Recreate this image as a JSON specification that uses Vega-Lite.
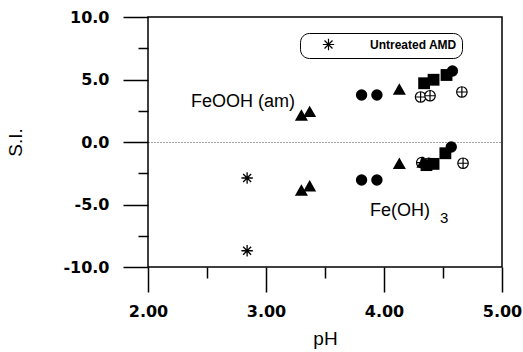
{
  "$schema": "https://vega.github.io/schema/vega-lite/v6.json",
  "width": 354,
  "height": 250,
  "autosize": {"type": "none"},
  "padding": {"left": 148, "top": 17, "right": 21, "bottom": 85},
  "background": "white",
  "config": {
    "view": {"stroke": "black", "strokeWidth": 1.5},
    "font": "Liberation Sans",
    "axis": {
      "domain": false,
      "tickColor": "black",
      "tickWidth": 1.5,
      "labelColor": "black",
      "labelFont": "DejaVu Sans",
      "labelFontSize": 16,
      "labelFontWeight": "bold",
      "titleFont": "Liberation Sans",
      "titleFontSize": 19,
      "titleFontWeight": "normal",
      "titleColor": "black"
    }
  },
  "datasets": {
    "pts": [
      {"pH": 2.84, "SI": -2.88, "type": "Untreated AMD"},
      {"pH": 2.84, "SI": -8.7, "type": "Untreated AMD"},
      {"pH": 4.31, "SI": 3.6, "type": "cross"},
      {"pH": 4.39, "SI": 3.7, "type": "cross"},
      {"pH": 4.66, "SI": 4.0, "type": "cross"},
      {"pH": 4.32, "SI": -1.65, "type": "cross"},
      {"pH": 4.38, "SI": -1.7, "type": "cross"},
      {"pH": 4.67, "SI": -1.7, "type": "cross"},
      {"pH": 3.30, "SI": 2.16, "type": "tri"},
      {"pH": 3.37, "SI": 2.45, "type": "tri"},
      {"pH": 4.13, "SI": 4.24, "type": "tri"},
      {"pH": 3.30, "SI": -3.84, "type": "tri"},
      {"pH": 3.37, "SI": -3.5, "type": "tri"},
      {"pH": 4.13, "SI": -1.7, "type": "tri"},
      {"pH": 4.33, "SI": -1.6, "type": "tri"},
      {"pH": 3.81, "SI": 3.76, "type": "circ"},
      {"pH": 3.94, "SI": 3.76, "type": "circ"},
      {"pH": 4.58, "SI": 5.68, "type": "circ"},
      {"pH": 3.81, "SI": -3.04, "type": "circ"},
      {"pH": 3.94, "SI": -3.04, "type": "circ"},
      {"pH": 4.57, "SI": -0.4, "type": "circ"},
      {"pH": 4.34, "SI": 4.7, "type": "sq"},
      {"pH": 4.42, "SI": 4.98, "type": "sq"},
      {"pH": 4.53, "SI": 5.36, "type": "sq"},
      {"pH": 4.36, "SI": -1.85, "type": "sq"},
      {"pH": 4.42, "SI": -1.75, "type": "sq"},
      {"pH": 4.52, "SI": -0.9, "type": "sq"}
    ],
    "labels": [
      {"pH": 2.805, "SI": 3.2, "label": "FeOOH (am)"},
      {"pH": 4.136, "SI": -5.5, "label": "Fe(OH)"}
    ],
    "subs": [
      {"pH": 4.51, "SI": -6.1, "label": "3"}
    ]
  },
  "encoding": {
    "x": {
      "field": "pH",
      "type": "quantitative",
      "scale": {"domain": [2, 5], "nice": false, "zero": false},
      "axis": {
        "title": "pH",
        "values": [2, 2.5, 3, 3.5, 4, 4.5, 5],
        "labelExpr": "datum.value % 1 === 0 ? format(datum.value, '.2f') : ''",
        "tickSize": {"condition": {"test": "datum.value % 1 === 0", "value": 25}, "value": 11},
        "labelPadding": 11,
        "labelFlush": false,
        "labelOverlap": false,
        "grid": false,
        "titlePadding": 10
      }
    },
    "y": {
      "field": "SI",
      "type": "quantitative",
      "scale": {"domain": [-10, 10], "nice": false, "zero": false},
      "axis": {
        "title": "S.I.",
        "values": [-10, -7.5, -5, -2.5, 0, 2.5, 5, 7.5, 10],
        "labelExpr": "datum.value % 5 === 0 ? (datum.value < 0 ? '-' : '') + format(abs(datum.value), '.1f') : ''",
        "tickSize": {"condition": {"test": "datum.value % 5 === 0", "value": 25}, "value": 10},
        "labelPadding": 14,
        "labelOverlap": false,
        "labelFlush": false,
        "grid": true,
        "gridColor": "#444444",
        "gridDash": [1, 2],
        "gridWidth": 1,
        "gridOpacity": {"condition": {"test": "datum.value === 0", "value": 1}, "value": 0},
        "titlePadding": 37
      }
    }
  },
  "layer": [
    {
      "data": {"name": "pts"},
      "transform": [{"filter": "datum.type === 'cross'"}],
      "mark": {"type": "point", "shape": "M-1,0A1,1 0 1,1 1,0A1,1 0 1,1 -1,0ZM-1,0L1,0M0,-1L0,1", "filled": true, "fill": "white", "stroke": "black", "strokeWidth": 1.2, "size": 110, "opacity": 1}
    },
    {
      "data": {"name": "pts"},
      "transform": [{"filter": "datum.type === 'tri'"}],
      "mark": {"type": "point", "shape": "triangle-up", "filled": true, "color": "black", "size": 170, "opacity": 1}
    },
    {
      "data": {"name": "pts"},
      "transform": [{"filter": "datum.type === 'circ'"}],
      "mark": {"type": "point", "shape": "circle", "filled": true, "color": "black", "size": 130, "opacity": 1}
    },
    {
      "data": {"name": "pts"},
      "transform": [{"filter": "datum.type === 'sq'"}],
      "mark": {"type": "point", "shape": "square", "filled": true, "color": "black", "size": 140, "opacity": 1}
    },
    {
      "data": {"name": "pts"},
      "transform": [{"filter": "datum.type === 'Untreated AMD'"}],
      "mark": {"type": "point", "filled": false, "color": "black", "strokeWidth": 1.3, "size": 130, "opacity": 1},
      "encoding": {
        "shape": {
          "field": "type",
          "type": "nominal",
          "scale": {"domain": ["Untreated AMD"], "range": ["M-1,0L1,0M0,-1L0,1M-0.7,-0.7L0.7,0.7M-0.7,0.7L0.7,-0.7"]},
          "legend": {
            "orient": "none",
            "legendX": 152,
            "legendY": 16,
            "title": null,
            "padding": 5,
            "cornerRadius": 9,
            "strokeColor": "black",
            "symbolOffset": 17,
            "labelOffset": 35,
            "labelFont": "Liberation Sans",
            "labelFontSize": 12,
            "labelFontWeight": "bold",
            "labelColor": "black",
            "symbolSize": 130,
            "symbolStrokeWidth": 1.2,
            "symbolStrokeColor": "black",
            "symbolFillColor": "transparent",
            "symbolOpacity": 1
          }
        }
      }
    },
    {
      "data": {"name": "labels"},
      "mark": {"type": "text", "font": "Liberation Sans", "fontSize": 18, "color": "black"},
      "encoding": {"text": {"field": "label"}}
    },
    {
      "data": {"name": "subs"},
      "mark": {"type": "text", "font": "Liberation Sans", "fontSize": 15, "color": "black"},
      "encoding": {"text": {"field": "label"}}
    }
  ]
}
